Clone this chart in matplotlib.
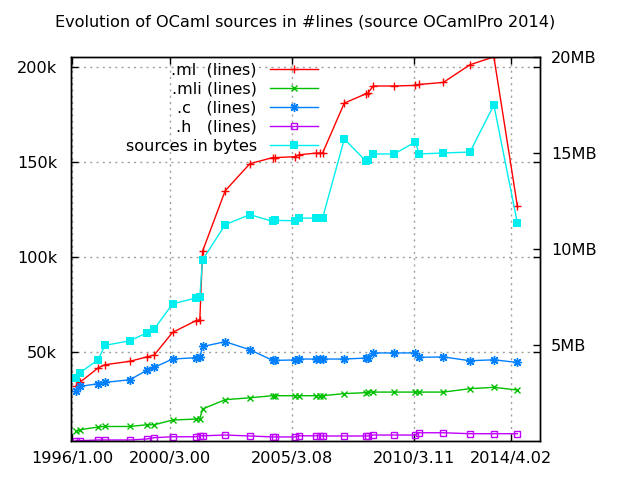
import matplotlib
matplotlib.use("Agg")
import matplotlib.pyplot as plt

plt.rcParams['font.family'] = ['DejaVu Sans']

# x positions (fractional years) of the releases
years = [1996.16, 1996.32, 1997.07, 1997.35, 1998.37, 1999.06, 1999.37, 2000.12,
         2001.08, 2001.24, 2001.35, 2002.28, 2003.29, 2004.22, 2004.32, 2005.15,
         2005.30, 2006.02, 2006.16, 2006.27, 2007.16, 2008.03, 2008.13, 2008.34,
         2009.20, 2010.07, 2010.23, 2011.22, 2012.31, 2013.29, 2014.25]

ml_k = [32.0, 34.0, 41.6, 43.3, 45.1, 47.4, 48.4, 60.3, 66.5, 67.0, 103.0, 134.9,
        149.1, 152.3, 152.3, 152.8, 153.8, 154.7, 154.7, 154.7, 181.0, 185.8, 186.3,
        190.0, 190.0, 190.3, 190.8, 191.9, 201.2, 205.3, 127.0]
mli_k = [8.2, 9.1, 10.5, 10.8, 10.8, 11.7, 11.7, 14.2, 14.7, 14.9, 20.0, 24.9,
         25.9, 27.0, 27.0, 27.0, 27.0, 27.0, 27.0, 27.0, 28.1, 28.6, 28.9, 28.9,
         28.9, 28.9, 28.9, 28.9, 30.7, 31.4, 30.0]
c_k = [29.6, 31.9, 33.3, 34.0, 35.4, 40.3, 41.9, 46.3, 47.0, 47.4, 52.9, 55.4,
       51.2, 45.6, 45.6, 45.8, 46.3, 46.3, 46.3, 46.3, 46.3, 46.8, 46.8, 49.5,
       49.5, 49.5, 47.2, 47.4, 45.4, 45.9, 44.5]
h_k = [3.3, 3.3, 3.7, 3.7, 3.7, 4.2, 4.9, 5.4, 5.4, 5.9, 5.9, 6.3, 5.8, 5.3, 5.3,
       5.3, 5.9, 5.9, 5.9, 5.8, 5.8, 5.8, 5.8, 6.3, 6.3, 6.3, 7.5, 7.5, 7.0, 7.0, 7.0]
bytes_mb = [3.3, 3.55, 4.23, 4.98, 5.22, 5.63, 5.83, 7.14, 7.45, 7.5, 9.43, 11.27,
            11.79, 11.44, 11.49, 11.47, 11.61, 11.61, 11.61, 11.61, 15.73, 14.6,
            14.65, 14.95, 14.95, 15.57, 14.95, 15.0, 15.05, 17.5, 11.37]

xtick_pos = [1996.0, 2000.0, 2005.0, 2010.0, 2014.0]
xtick_labels = ["1996/1.00", "2000/3.00", "2005/3.08", "2010/3.11", "2014/4.02"]
ytick_pos = [50, 100, 150, 200]
ytick_labels = ["50k", "100k", "150k", "200k"]
y2tick_pos = [5, 10, 15, 20]
y2tick_labels = ["5MB", "10MB", "15MB", "20MB"]

title = "Evolution of OCaml sources in #lines (source OCamlPro 2014)"
labels = [".ml  (lines)", ".mli (lines)", ".c   (lines)", ".h   (lines)", "sources in bytes"]

FS = 11.6

fig = plt.figure(figsize=(6.4, 4.8), dpi=100)
L, R, B, T = 71 / 640, 540 / 640, 1 - 441 / 480, 1 - 57 / 480
ax = fig.add_axes([L, B, R - L, T - B])
ax2 = ax.twinx()

lw = 1.0
h1, = ax.plot(years, ml_k, color='#ff0000', lw=lw, marker='+', ms=6, mew=1.0)
h2, = ax.plot(years, mli_k, color='#00c000', lw=lw, marker='x', ms=5, mew=1.0)
h3, = ax.plot(years, c_k, color='#0080ff', lw=lw, marker=(8, 2, 0), ms=6.5, mew=1.0)
h4, = ax.plot(years, h_k, color='#c000ff', lw=lw, marker='s', ms=5, mew=1.0, mfc='none')
h5, = ax2.plot(years, bytes_mb, color='#00eeee', lw=lw, marker='s', ms=5.5, mew=0)

ax.set_xlim(1995.96, 2015.18)
ax.set_ylim(3.16, 205.26)
ax2.set_ylim(0, 20)

ax.set_xticks(xtick_pos)
ax.set_xticklabels(xtick_labels)
ax.set_yticks(ytick_pos)
ax.set_yticklabels(ytick_labels)
ax2.set_yticks(y2tick_pos)
ax2.set_yticklabels(y2tick_labels)

ax.grid(True, color='#a0a0a0', linestyle=(0, (1.5, 3)), linewidth=1.0)
ax.tick_params(axis='both', direction='in', length=5, width=1, labelsize=FS, colors='black')
ax.tick_params(axis='x', top=True, pad=7)
ax.tick_params(axis='y', left=True, right=True, labelright=False, pad=10)
ax2.tick_params(axis='y', direction='in', length=5, width=1, labelsize=FS, pad=8)
for a in (ax, ax2):
    for s in a.spines.values():
        s.set_linewidth(1.0)
        s.set_color('black')

fig.text((L + R) / 2, 1 - 22 / 480, title, ha='center', va='center', fontsize=FS)

leg = ax2.legend([h1, h2, h3, h4, h5], labels, loc='upper right',
                 bbox_to_anchor=(0.53, 0.99), frameon=False, markerfirst=False,
                 fontsize=FS, handlelength=3.0, handletextpad=0.8,
                 labelspacing=0.25, borderaxespad=0.0, borderpad=0.1)
for col in leg._legend_handle_box.get_children():
    col.align = 'right'

fig.savefig("out.png", dpi=100)
